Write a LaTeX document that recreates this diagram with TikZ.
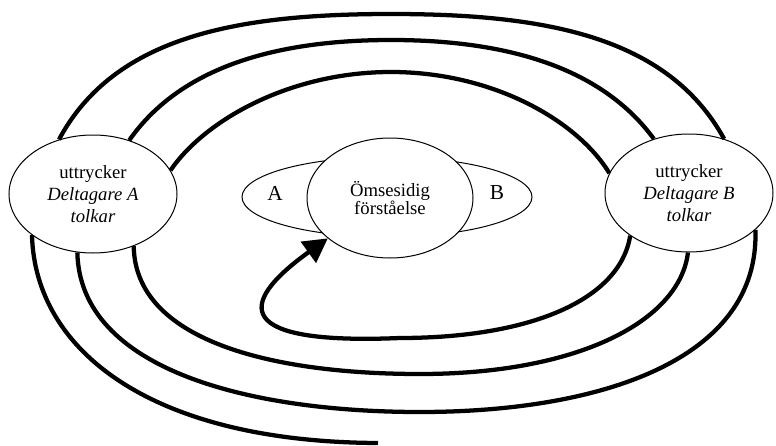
\documentclass[tikz,border=0pt]{standalone}
\usepackage{fontspec}
\setmainfont{Liberation Serif}
\usetikzlibrary{shapes.geometric,arrows.meta}

\begin{document}
\begin{tikzpicture}[x=0.75pt,y=0.75pt,yscale=-1,xscale=1,
  party/.style={draw, ellipse, fill=white, line width=0.75pt, inner sep=0pt, minimum width=126pt, minimum height=88.5pt, align=center, font=\fontsize{14pt}{16.3pt}\selectfont},
  strand/.style={line width=3.2pt}]
\useasboundingbox (0,0) rectangle (776,446);

%Shape: Ellipse
\node [draw, ellipse, line width=0.75pt, minimum width=217.5pt, minimum height=60pt] (shared) at (387,197) {};
%Shape: Ellipse
\node [party, minimum width=124.5pt, minimum height=90pt, font=\fontsize{14pt}{12.8pt}\selectfont] (mid) at (390,198) {Ömsesidig\\förståelse};
%Shape: Ellipse
\node [party] (partA) at (93,194) {uttrycker\\\textit{Deltagare A}\\\textit{tolkar}};
%Shape: Ellipse
\node [party] (partB) at (689,193) {uttrycker\\\textit{Deltagare B}\\\textit{tolkar}};

% Text Node
\node [font=\fontsize{16pt}{18pt}\selectfont] (labA) at (275,193) {A};
% Text Node
\node [font=\fontsize{16pt}{18pt}\selectfont] (labB) at (497,193) {B};

\coordinate (tail) at (378,443);

%Curve Lines
\draw [strand] (partA.122) .. controls (115,35) and (240,14) .. (391,14) .. controls (542,14) and (667,35) .. (partB.57);
%Curve Lines
\draw [strand] (partA.56) .. controls (175,75) and (260,40) .. (391,40) .. controls (522,40) and (607,75) .. (partB.123);
%Curve Lines
\draw [strand] (partA.17) .. controls (205,120) and (290,72) .. (391,72) .. controls (492,72) and (577,120) .. (partB.166);
%Curve Lines
\draw [strand] (partA.214) .. controls (35,350) and (150,442) .. (tail);
%Curve Lines
\draw [strand] (partA.255) .. controls (80,370) and (250,412) .. (420,412) .. controls (600,412) and (760,360) .. (partB.331);
%Curve Lines
\draw [strand] (partA.308) .. controls (135,340) and (270,374) .. (420,374) .. controls (580,374) and (680,320) .. (partB.269);
%Curve Lines
\draw [strand, -{Triangle[length=18pt,width=19pt]}] (partB.216) .. controls (620,300) and (530,338) .. (400,338) .. controls (235,345) and (235,305) .. (mid.213);

\end{tikzpicture}
\end{document}
